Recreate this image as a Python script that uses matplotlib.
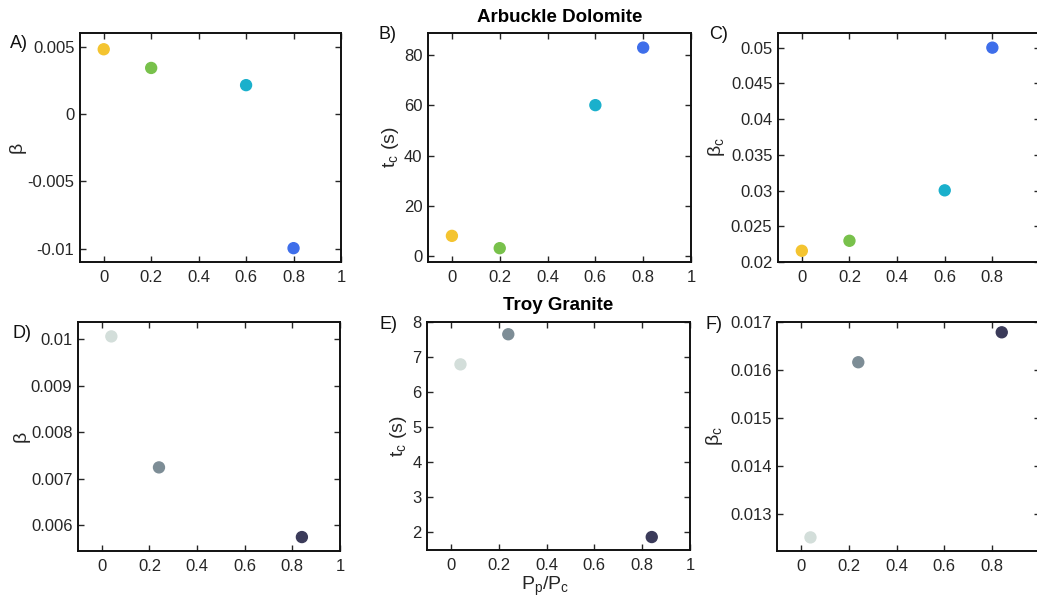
import matplotlib.pyplot as plt

plt.rcParams['font.family'] = ['Liberation Sans', 'DejaVu Sans']
plt.rcParams['mathtext.fontset'] = 'custom'
plt.rcParams['mathtext.rm'] = 'Liberation Sans'
plt.rcParams['mathtext.it'] = 'Liberation Sans'

# Arbuckle Dolomite
ad_x = [0.0, 0.2, 0.6, 0.8]
ad_beta = [0.00483, 0.00344, 0.00216, -0.00997]
ad_tc = [8.1, 3.2, 60.1, 83.0]
ad_betac = [0.02157, 0.02297, 0.03003, 0.0500]
ad_colors = ['#F4C430', '#78C14B', '#1AB0CC', '#3E6EEA']

# Troy Granite
tg_x = [0.04, 0.24, 0.84]
tg_beta = [0.01006, 0.00724, 0.00574]
tg_tc = [6.79, 7.65, 1.86]
tg_betac = [0.012504, 0.01616, 0.016785]
tg_colors = ['#D3DEDA', '#7D8D96', '#3B3B5A']

xticks = [0, 0.2, 0.4, 0.6, 0.8, 1]
xticklabels = ['0', '0.2', '0.4', '0.6', '0.8', '1']

fig = plt.figure(figsize=(10.37, 6.10), dpi=100)
W, H = 1037.0, 610.0


def make_ax(left, top, right, bottom):
    return fig.add_axes([left / W, 1 - bottom / H, (right - left) / W, (bottom - top) / H])


def style(ax, ylim, yticks, yticklabels, label, lab_xy, ylabel, ylab_x, cut=False):
    ax.set_xlim(-0.1, 1)
    ax.set_ylim(*ylim)
    ax.set_xticks(xticks)
    # right column is cut by the picture edge, its last label is not shown
    ax.set_xticklabels(xticklabels[:-1] + [''] if cut else xticklabels)
    ax.set_yticks(yticks)
    ax.set_yticklabels(yticklabels)
    ax.tick_params(direction='in', top=True, right=True, length=4, width=1,
                   labelsize=12, colors='#262626')
    ax.tick_params(axis='x', pad=6)
    ax.tick_params(axis='y', pad=4)
    for s in ax.spines.values():
        s.set_linewidth(1.4)
        s.set_color('#111111')
    ax.set_ylabel(ylabel, fontsize=14, color='#262626')
    ax.yaxis.set_label_coords(ylab_x, 0.5)
    ax.text(lab_xy[0], lab_xy[1], label, transform=ax.transAxes, fontsize=13,
            ha='left', va='center', color='#111111')


# top row
axA = make_ax(80, 33, 341, 262)
axB = make_ax(428, 33, 691, 262)
axC = make_ax(778, 33, 1040, 262)
# bottom row
axD = make_ax(78, 322, 340, 551)
axE = make_ax(427, 322, 690, 550)
axF = make_ax(777, 322, 1040, 551)

axA.scatter(ad_x, ad_beta, c=ad_colors, s=62, zorder=3)
style(axA, (-0.011, 0.00604), [-0.01, -0.005, 0, 0.005],
      ['-0.01', '-0.005', '0', '0.005'], 'A)', (-0.268, 0.956), 'β', -0.207)

axB.scatter(ad_x, ad_tc, c=ad_colors, s=62, zorder=3)
style(axB, (-2.3, 88.8), [0, 20, 40, 60, 80],
      ['0', '20', '40', '60', '80'], 'B)', (-0.19, 0.995), r't$_\mathrm{c}$ (s)', -0.104)
axB.set_title('Arbuckle Dolomite', fontsize=13.5, fontweight='bold', pad=8)

axC.scatter(ad_x, ad_betac, c=ad_colors, s=62, zorder=3)
style(axC, (0.02, 0.05205), [0.02, 0.025, 0.03, 0.035, 0.04, 0.045, 0.05],
      ['0.02', '0.025', '0.03', '0.035', '0.04', '0.045', '0.05'], 'C)', (-0.262, 0.995),
      r'β$_\mathrm{c}$', -0.196, cut=True)

axD.scatter(tg_x, tg_beta, c=tg_colors, s=62, zorder=3)
style(axD, (0.00544, 0.01037), [0.006, 0.007, 0.008, 0.009, 0.01],
      ['0.006', '0.007', '0.008', '0.009', '0.01'], 'D)', (-0.25, 0.95), 'β', -0.184)

axE.scatter(tg_x, tg_tc, c=tg_colors, s=62, zorder=3)
style(axE, (1.49, 8), [2, 3, 4, 5, 6, 7, 8],
      ['2', '3', '4', '5', '6', '7', '8'], 'E)', (-0.18, 0.99), r't$_\mathrm{c}$ (s)', -0.07)
axE.set_title('Troy Granite', fontsize=13.5, fontweight='bold', pad=9)
axE.set_xlabel(r'P$_\mathrm{p}$/P$_\mathrm{c}$', fontsize=14, color='#262626')
axE.xaxis.set_label_coords(0.45, -0.108)

axF.scatter(tg_x, tg_betac, c=tg_colors, s=62, zorder=3)
style(axF, (0.01222, 0.017), [0.013, 0.014, 0.015, 0.016, 0.017],
      ['0.013', '0.014', '0.015', '0.016', '0.017'], 'F)', (-0.27, 0.99),
      r'β$_\mathrm{c}$', -0.198, cut=True)

fig.savefig('out.png', dpi=100)
